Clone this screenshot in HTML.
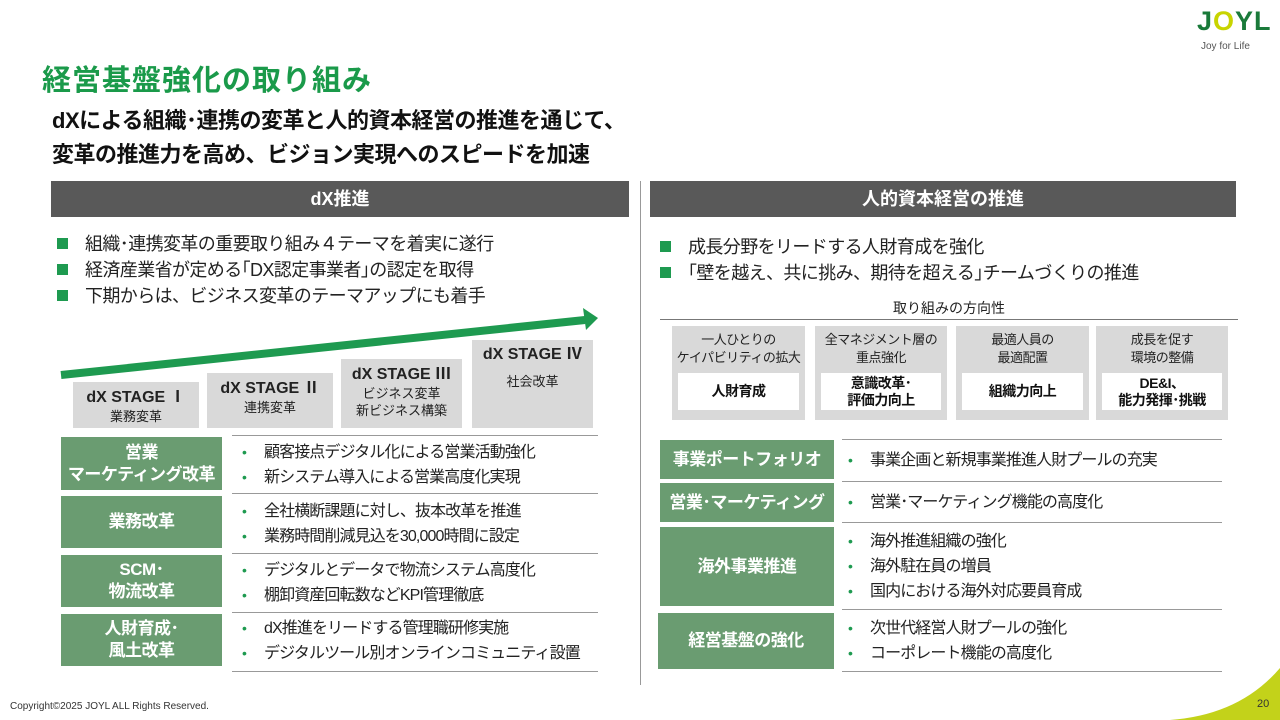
<!DOCTYPE html>
<html><head><meta charset="utf-8"><style>
*{margin:0;padding:0;box-sizing:border-box}
body{width:1280px;height:720px;position:relative;background:#fff;font-family:"Liberation Sans","Noto Sans CJK JP",sans-serif;color:#222;overflow:hidden}
.a{position:absolute}
.hdr{background:#595959;color:#fff;font-weight:bold;font-size:18px;text-align:center;line-height:36px}
.sq{width:11px;height:11px;background:#1e9a50}
.bl{font-size:18px;line-height:26px;letter-spacing:-0.6px}
.stg{background:#d9d9d9;text-align:center;font-size:13px;line-height:17px}
.stg b{font-size:16px;display:block;line-height:20px}
.gb{background:#6a9c71;color:#fff;font-weight:bold;font-size:17px;display:flex;align-items:center;justify-content:center;text-align:center;line-height:22px;letter-spacing:-0.5px}
.ln{height:1px;background:#999}
.it{font-size:16px;line-height:24px;letter-spacing:-0.9px}
.it span{color:#1e9a50;display:inline-block;width:28px;font-size:14px;padding-left:6px}
.db{background:#d9d9d9;text-align:center;font-size:13px;line-height:18px;padding-top:5px;letter-spacing:-0.5px}
.wb{position:absolute;left:6px;right:6px;top:47px;height:37px;background:#fff;font-weight:bold;font-size:14px;line-height:17px;display:flex;align-items:center;justify-content:center;color:#111}
</style></head><body>
<div class="a" style="left:42px;top:57px;font-size:29px;font-weight:bold;color:#1a9a4a;letter-spacing:1px">経営基盤強化の取り組み</div>
<div class="a" style="left:52px;top:104px;font-size:22px;font-weight:bold;line-height:34px;color:#111;letter-spacing:-0.5px">dXによる組織･連携の変革と人的資本経営の推進を通じて、<br>変革の推進力を高め、ビジョン実現へのスピードを加速</div>
<div class="a" style="left:1197px;top:6px;font-size:27px;font-weight:bold;color:#1a7a3a;letter-spacing:1px">J<span style="color:#c8d400">O</span>YL</div>
<div class="a" style="left:1201px;top:41px;font-size:10px;color:#555">Joy for Life</div>

<div class="a hdr" style="left:51px;top:181px;width:578px">dX推進</div>
<div class="a hdr" style="left:650px;top:181px;width:586px">人的資本経営の推進</div>
<div class="a" style="left:640px;top:181px;width:1px;height:504px;background:#999"></div>

<div class="a sq" style="left:57px;top:238px"></div><div class="a sq" style="left:57px;top:264px"></div><div class="a sq" style="left:57px;top:290px"></div>
<div class="a bl" style="left:85px;top:231px">組織･連携変革の重要取り組み４テーマを着実に遂行<br>経済産業省が定める｢DX認定事業者｣の認定を取得<br>下期からは、ビジネス変革のテーマアップにも着手</div>

<svg class="a" style="left:0;top:0" width="640" height="440"><line x1="61" y1="375" x2="585" y2="320" stroke="#1e9a50" stroke-width="8"/><polygon points="598,318 583,308 586,330" fill="#1e9a50"/></svg>

<div class="a stg" style="left:73px;top:382px;width:126px;height:46px;padding-top:6px"><b>dX STAGE Ⅰ</b>業務変革</div>
<div class="a stg" style="left:207px;top:373px;width:126px;height:55px;padding-top:6px"><b>dX STAGE Ⅱ</b>連携変革</div>
<div class="a stg" style="left:341px;top:359px;width:121px;height:69px;padding-top:6px"><b>dX STAGE Ⅲ</b>ビジネス変革<br>新ビジネス構築</div>
<div class="a stg" style="left:472px;top:340px;width:121px;height:88px;padding-top:5px"><b>dX STAGE Ⅳ</b><div style="margin-top:8px">社会改革</div></div>

<div class="a ln" style="left:232px;top:435px;width:366px"></div>
<div class="a ln" style="left:232px;top:493px;width:366px"></div>
<div class="a ln" style="left:232px;top:553px;width:366px"></div>
<div class="a ln" style="left:232px;top:612px;width:366px"></div>
<div class="a ln" style="left:232px;top:671px;width:366px"></div>
<div class="a gb" style="left:61px;top:437px;width:161px;height:53px">営業<br>マーケティング改革</div>
<div class="a gb" style="left:61px;top:496px;width:161px;height:52px">業務改革</div>
<div class="a gb" style="left:61px;top:555px;width:161px;height:52px">SCM･<br>物流改革</div>
<div class="a gb" style="left:61px;top:614px;width:161px;height:52px">人財育成･<br>風土改革</div>
<div class="a it" style="left:236px;top:440px"><span>•</span>顧客接点デジタル化による営業活動強化<br><span>•</span>新システム導入による営業高度化実現</div>
<div class="a it" style="left:236px;top:499px"><span>•</span>全社横断課題に対し、抜本改革を推進<br><span>•</span>業務時間削減見込を30,000時間に設定</div>
<div class="a it" style="left:236px;top:558px"><span>•</span>デジタルとデータで物流システム高度化<br><span>•</span>棚卸資産回転数などKPI管理徹底</div>
<div class="a it" style="left:236px;top:616px"><span>•</span>dX推進をリードする管理職研修実施<br><span>•</span>デジタルツール別オンラインコミュニティ設置</div>

<div class="a sq" style="left:660px;top:241px"></div><div class="a sq" style="left:660px;top:267px"></div>
<div class="a bl" style="left:688px;top:234px">成長分野をリードする人財育成を強化<br>｢壁を越え、共に挑み、期待を超える｣チームづくりの推進</div>
<div class="a" style="left:660px;top:298px;width:578px;text-align:center;font-size:14px">取り組みの方向性</div>
<div class="a ln" style="left:660px;top:319px;width:578px;background:#777"></div>
<div class="a db" style="left:672px;top:326px;width:133px;height:94px">一人ひとりの<br>ケイパビリティの拡大<div class="wb">人財育成</div></div>
<div class="a db" style="left:815px;top:326px;width:132px;height:94px">全マネジメント層の<br>重点強化<div class="wb">意識改革･<br>評価力向上</div></div>
<div class="a db" style="left:956px;top:326px;width:133px;height:94px">最適人員の<br>最適配置<div class="wb">組織力向上</div></div>
<div class="a db" style="left:1096px;top:326px;width:132px;height:94px">成長を促す<br>環境の整備<div class="wb">DE&amp;I、<br>能力発揮･挑戦</div></div>

<div class="a ln" style="left:842px;top:439px;width:380px"></div>
<div class="a ln" style="left:842px;top:481px;width:380px"></div>
<div class="a ln" style="left:842px;top:522px;width:380px"></div>
<div class="a ln" style="left:842px;top:609px;width:380px"></div>
<div class="a ln" style="left:842px;top:671px;width:380px"></div>
<div class="a gb" style="left:660px;top:440px;width:174px;height:39px">事業ポートフォリオ</div>
<div class="a gb" style="left:660px;top:483px;width:174px;height:39px">営業･マーケティング</div>
<div class="a gb" style="left:660px;top:527px;width:174px;height:79px">海外事業推進</div>
<div class="a gb" style="left:658px;top:613px;width:176px;height:56px">経営基盤の強化</div>
<div class="a it" style="left:842px;top:448px"><span>•</span>事業企画と新規事業推進人財プールの充実</div>
<div class="a it" style="left:842px;top:490px"><span>•</span>営業･マーケティング機能の高度化</div>
<div class="a it" style="left:842px;top:529px"><span>•</span>海外推進組織の強化<br><span>•</span>海外駐在員の増員<br><span>•</span>国内における海外対応要員育成</div>
<div class="a it" style="left:842px;top:616px"><span>•</span>次世代経営人財プールの強化<br><span>•</span>コーポレート機能の高度化</div>

<div class="a" style="left:10px;top:701px;font-size:10px;color:#333">Copyright©2025 JOYL ALL Rights Reserved.</div>
<svg class="a" style="left:1130px;top:660px" width="150" height="60"><path d="M40,60 Q110,55 150,8 L150,60 Z" fill="#c3d21a"/></svg>
<div class="a" style="left:1257px;top:698px;font-size:11px;color:#333">20</div>
</body></html>
